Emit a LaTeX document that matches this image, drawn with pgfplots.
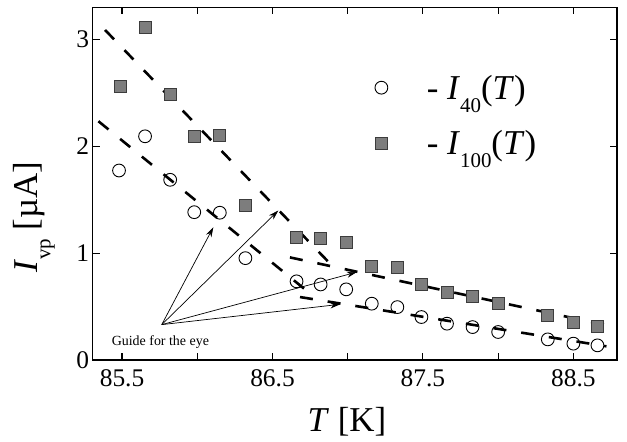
\documentclass[border=0pt]{standalone}
\usepackage{fontspec}
\setmainfont{Liberation Serif}
\usepackage{pgfplots}
\pgfplotsset{compat=1.18}
\usetikzlibrary{arrows.meta}
\definecolor{sqfill}{RGB}{125,125,125}
\definecolor{sqedge}{RGB}{60,60,60}
\newcommand{\sub}[1]{\raisebox{-0.38em}{\fontsize{0.6\dimexpr\fontdimen6\font}{1}\selectfont #1}}
\begin{document}
\begin{tikzpicture}
\begin{axis}[
  scale only axis, width=524.3bp, height=352.7bp,
  xmin=85.305, xmax=88.79, ymin=0, ymax=3.30,
  xtick={85.5,86,86.5,87,87.5,88,88.5},
  xticklabels={85.5,,86.5,,87.5,,88.5},
  ytick={0,1,2,3}, yticklabels={0,1,2,3},
  tick align=inside, major tick length=7bp,
  axis line style={line width=1.3bp},
  every tick/.style={line width=1.1bp, black},
  tick label style={font=\fontsize{25.5}{30}\selectfont},
  xticklabel style={yshift=-6bp},
  xlabel={\textit{T} [K]},
  ylabel={\textit{I}\sub{vp} [µA]},
  label style={font=\fontsize{35}{40}\selectfont},
  xlabel style={at={(axis description cs:0.485,-0.176)}, anchor=center},
  ylabel style={at={(axis description cs:-0.112,0.405)}, anchor=center},
  legend style={draw=none, fill=none, at={(axis cs:87.18,2.67)}, anchor=north west,
    font=\fontsize{35}{40}\selectfont, row sep=30bp, inner sep=0pt,
    nodes={inner sep=0pt},
    /tikz/every odd column/.append style={column sep=39bp}},
  legend cell align=left,
]
\coordinate (sw) at (rel axis cs:0,0);
% guide lines
\addplot[black, line width=2.6bp, dash pattern=on 13bp off 15bp, forget plot] coordinates {(85.387,3.088) (86.869,0.922)};
\addplot[black, line width=2.6bp, dash pattern=on 13bp off 15bp, forget plot] coordinates {(86.616,0.960) (88.77,0.31)};
\addplot[black, line width=2.6bp, dash pattern=on 13bp off 15bp, forget plot] coordinates {(85.343,2.234) (86.749,0.623)};
\addplot[black, line width=2.6bp, dash pattern=on 13bp off 15bp, forget plot] coordinates {(86.683,0.589) (88.72,0.128)};
% I40
\addplot[only marks, mark=o, mark size=6.4bp, mark options={line width=0.9bp, black, fill=white}] coordinates {
(85.48,1.773) (85.653,2.093) (85.82,1.686) (85.98,1.383) (86.15,1.378) (86.32,0.953)
(86.66,0.736) (86.82,0.707) (86.99,0.661) (87.16,0.527) (87.33,0.495) (87.49,0.402)
(87.66,0.340) (87.83,0.308) (88.0,0.262) (88.33,0.193) (88.5,0.153) (88.66,0.137)};
\addlegendentry{- \textit{I}\sub{40}(\textit{T})}
% I100
\addplot[only marks, mark=square*, mark size=6bp, mark options={line width=0.9bp, draw=sqedge, fill=sqfill}] coordinates {
(85.49,2.558) (85.653,3.107) (85.82,2.486) (85.98,2.091) (86.15,2.100) (86.32,1.446)
(86.66,1.144) (86.82,1.135) (86.99,1.097) (87.16,0.879) (87.33,0.864) (87.49,0.707)
(87.66,0.630) (87.83,0.595) (88.0,0.533) (88.33,0.418) (88.5,0.350) (88.66,0.318)};
\addlegendentry{- \textit{I}\sub{100}(\textit{T})}
% arrows
\draw[-{Stealth[length=10bp,width=6bp]}, line width=0.7bp] (axis cs:85.764,0.331) -- (axis cs:86.107,1.243);
\draw[-{Stealth[length=10bp,width=6bp]}, line width=0.7bp] (axis cs:85.764,0.331) -- (axis cs:86.539,1.399);
\draw[-{Stealth[length=10bp,width=6bp]}, line width=0.7bp] (axis cs:85.764,0.331) -- (axis cs:87.06,0.822);
\draw[-{Stealth[length=10bp,width=6bp]}, line width=0.7bp] (axis cs:85.764,0.331) -- (axis cs:86.95,0.521);
\node[font=\fontsize{14}{16}\selectfont, anchor=base, inner sep=0pt] at (axis cs:85.755,0.138) {Guide for the eye};
\end{axis}
\pgfresetboundingbox
\path[use as bounding box] ([shift={(-92.7bp,-82bp)}]sw) rectangle ([shift={(534.3bp,360bp)}]sw);
\end{tikzpicture}
\end{document}
